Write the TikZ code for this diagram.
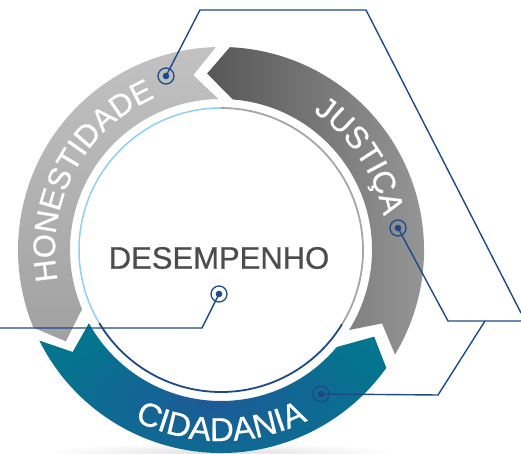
\documentclass[tikz,border=0pt]{standalone}
\usepackage{fontspec}
\usepackage{xcolor}
\usetikzlibrary{calc,decorations.text}
\newfontfamily\ringfont[FakeBold=0.6]{Liberation Sans}
\definecolor{linkblue}{HTML}{1D4A87}
\definecolor{cidblue}{HTML}{1D5A98}
\definecolor{cidteal}{HTML}{05748F}
\definecolor{lineblue}{HTML}{8DD0F2}
\definecolor{textgray}{HTML}{4C4C4C}
\newcommand{\ringtext}{\ringfont\fontsize{31}{31}\selectfont}
\tikzset{
  hubdot/.style={circle,draw=linkblue,line width=1.3pt,minimum size=16pt,inner sep=0pt,
    path picture={\fill[linkblue] (path picture bounding box.center) circle (3.3pt);}},
  link/.style={draw=linkblue,line width=1.4pt},
  ringword/.style 2 args={decorate,decoration={text along path,text align=center,
    text color=white,text={|\ringfont\fontsize{#1}{#1}\selectfont|#2}}}
}

\begin{document}
\begin{tikzpicture}[x=1pt,y=1pt]
  \useasboundingbox (0,0) rectangle (521,454);
  \coordinate (O) at (221,204);
  \shade[inner color=black!12,outer color=white] (221,2) ellipse [x radius=175,y radius=9];
  % honestidade
  \shade[top color=black!24,bottom color=black!37]
    ($(O)+(91.5:203)$) arc[start angle=91.5,end angle=202.5,radius=203]
    -- ($(O)+(210.5:180)$) -- ($(O)+(203:151)$)
    arc[start angle=203,end angle=91,radius=151] -- ($(O)+(99:177)$) -- cycle;
  % justica
  \shade[left color=black!66,right color=black!38]
    ($(O)+(-31:203)$) arc[start angle=-31,end angle=87.5,radius=203]
    -- ($(O)+(94.5:177)$) -- ($(O)+(85.5:151)$)
    arc[start angle=85.5,end angle=-32,radius=151] -- ($(O)+(-24.5:177)$) -- cycle;
  % cidadania
  \shade[inner color=cidblue,outer color=cidteal]
    ($(O)+(206.5:203)$) arc[start angle=206.5,end angle=324.5,radius=203]
    -- ($(O)+(330.5:176)$) -- ($(O)+(320:151)$)
    arc[start angle=320,end angle=209,radius=151] -- ($(O)+(214.5:180)$) -- cycle;
  \fill[white] (O) circle (142);
  \draw[lineblue,line width=1.5pt] ($(O)+(90:142)$) arc[start angle=90,end angle=211,radius=142];
  \draw[linkblue,line width=1.8pt] ($(O)+(211:142)$) arc[start angle=211,end angle=328.5,radius=142];
  \draw[black!35,line width=1.8pt] ($(O)+(-31.5:142)$) arc[start angle=-31.5,end angle=90,radius=142];
  \path[ringword={31}{HONESTIDADE}] ($(O)+(200:166)$) arc[start angle=200,end angle=104,radius=166];
  \path[ringword={31}{JUSTIÇA}] ($(O)+(70:166)$) arc[start angle=70,end angle=-2,radius=166];
  \path[ringword={33}{CIDADANIA}] ($(O)+(225:191)$) arc[start angle=225,end angle=315,radius=191];
  \node[font=\ringtext,text=textgray] (desemp) at (219,196) {DESEMPENHO};
  \node[hubdot] (dH) at (166,378) {};
  \node[hubdot] (dJ) at (398,226) {};
  \node[hubdot] (dC) at (321,60) {};
  \node[hubdot] (dD) at (219,160) {};
  \coordinate (eH) at (521,141);
  \coordinate (eJ) at (521,133);
  \coordinate (jC) at (485,133);
  \coordinate (eD) at (0,126);
  \draw[link] (dH.center) -- (200,444) -- (366,444) -- (eH);
  \draw[link] (dJ.center) -- (448,133) -- (eJ);
  \draw[link] (dC.center) -- (438,59) -- (jC);
  \draw[link] (dD.center) -- (202,126) -- (eD);
\end{tikzpicture}
\end{document}
